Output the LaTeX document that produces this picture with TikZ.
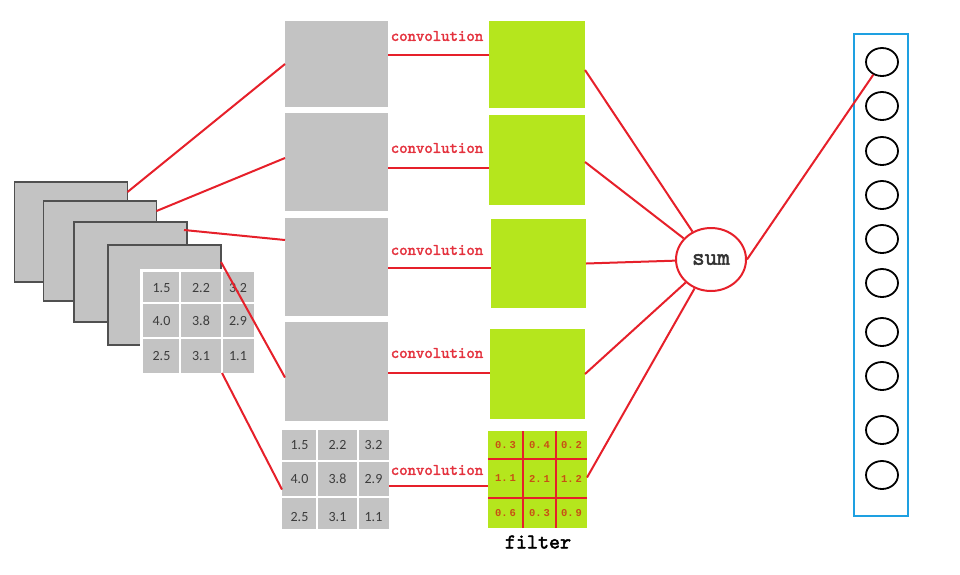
\documentclass[tikz,border=0pt]{standalone}
\usepackage{fontspec}
\usetikzlibrary{shapes.geometric,calc}
\newfontfamily\monof{Liberation Mono}
\newfontfamily\numf{Carlito}
\newfontfamily\slabf{lmmono10-regular.otf}[AutoFakeBold=2.2]
\definecolor{lred}{RGB}{230,32,42}
\definecolor{tred}{RGB}{228,50,62}
\definecolor{bgray}{RGB}{195,195,195}
\definecolor{sgray}{RGB}{80,80,80}
\definecolor{lime}{RGB}{181,230,29}
\definecolor{oblue}{RGB}{30,160,225}
\definecolor{ftxt}{RGB}{200,80,20}
\definecolor{ntxt}{RGB}{60,60,60}
\tikzset{
  graybox/.style={fill=bgray,draw=none,inner sep=0,outer sep=0,minimum width=#1},
  greenbox/.style={fill=lime,draw=none,inner sep=0,outer sep=0},
  sheet/.style={fill=bgray,draw=sgray,line width=1.1pt,inner sep=0,outer sep=0,minimum width=113pt,minimum height=100pt},
  conn/.style={draw=lred,line width=2pt},
  convlbl/.style={text=tred,font=\slabf\bfseries\fontsize{16}{16}\selectfont,inner sep=0},
  numlbl/.style={text=ntxt,font=\numf\fontsize{14}{14}\selectfont,inner sep=0},
  flbl/.style={text=ftxt,font=\monof\bfseries\fontsize{10.5}{11}\selectfont,inner sep=0},
  outc/.style={ellipse,draw=black,line width=1.8pt,minimum width=32pt,minimum height=28pt,inner sep=0},
}
\begin{document}
\begin{tikzpicture}[x=1pt,y=-1pt]
\useasboundingbox (0,0) rectangle (960,574);
% input sheets
\node[sheet] (s1) at (71,232) {};
\node[sheet] (s2) at (100,251) {};
\node[sheet] (s3) at (130.5,272) {};
\node[sheet] (s4) at (164.5,295) {};
% input grid
\fill[white] (140,269) rectangle (257,376);
\node[fill=bgray,inner sep=0,outer sep=0,minimum width=111pt,minimum height=101pt] (ig) at (198.5,322.5) {};
\draw[white,line width=1.5pt] (180,272) -- (180,373) (222,272) -- (222,373) (143,303) -- (254,303) (143,338) -- (254,338);
\node[numlbl] at (161.5,288) {1.5};
\node[numlbl] at (201,288) {2.2};
\node[numlbl] at (238,288) {3.2};
\node[numlbl] at (161.5,321) {4.0};
\node[numlbl] at (201,321) {3.8};
\node[numlbl] at (238,321) {2.9};
\node[numlbl] at (161.5,356) {2.5};
\node[numlbl] at (201,356) {3.1};
\node[numlbl] at (238,356) {1.1};
\coordinate (igb) at (222,373);
% gray column
\node[graybox=103pt,minimum height=86pt] (g1) at (336.5,64) {};
\node[graybox=103pt,minimum height=98pt] (g2) at (336.5,162) {};
\node[graybox=103pt,minimum height=98pt] (g3) at (336.5,267) {};
\node[graybox=103pt,minimum height=99pt] (g4) at (336.5,371.5) {};
\node[graybox=107pt,minimum height=99pt] (g5) at (335.5,479.5) {};
\draw[white,line width=1.5pt] (317,430) -- (317,529) (358,430) -- (358,529) (282,461) -- (389,461) (282,497) -- (389,497);
\node[numlbl] at (299.5,445.5) {1.5};
\node[numlbl] at (337.5,445.5) {2.2};
\node[numlbl] at (373.5,445.5) {3.2};
\node[numlbl] at (299.5,479) {4.0};
\node[numlbl] at (337.5,479) {3.8};
\node[numlbl] at (373.5,479) {2.9};
\node[numlbl] at (299.5,517) {2.5};
\node[numlbl] at (337.5,517) {3.1};
\node[numlbl] at (373.5,517) {1.1};
% green column
\node[greenbox,minimum width=96pt,minimum height=87pt] (f1) at (537,64.5) {};
\node[greenbox,minimum width=96pt,minimum height=90pt] (f2) at (537,160) {};
\node[greenbox,minimum width=95pt,minimum height=89pt] (f3) at (538.5,263.5) {};
\node[greenbox,minimum width=95pt,minimum height=90pt] (f4) at (537.5,374) {};
\node[greenbox,minimum width=99pt,minimum height=97pt] (f5) at (537.5,479.5) {};
\draw[lred,line width=2pt] (523,431) -- (523,528) (556,431) -- (556,528) (488,459) -- (587,459) (488,498) -- (587,498);
\node[flbl] at (505.5,445) {0.\,3};
\node[flbl] at (539.5,445) {0.\,4};
\node[flbl] at (571.5,445) {0.\,2};
\node[flbl] at (505.5,478.5) {1.\,1};
\node[flbl] at (539.5,478.5) {2.\,1};
\node[flbl] at (571.5,478.5) {1.\,2};
\node[flbl] at (505.5,513) {0.\,6};
\node[flbl] at (539.5,513) {0.\,3};
\node[flbl] at (571.5,513) {0.\,9};
\node[font=\slabf\bfseries\fontsize{21}{21}\selectfont,inner sep=0] (flt) at (538,542) {filter};
% convolution labels and lines
\node[convlbl] (c1) at (437,36) {convolution};
\node[convlbl] (c2) at (437,148) {convolution};
\node[convlbl] (c3) at (437,250) {convolution};
\node[convlbl] (c4) at (437,353) {convolution};
\node[convlbl] (c5) at (437,470) {convolution};
\coordinate (y1) at (437,55);
\coordinate (y2) at (437,168);
\coordinate (y3) at (437,268);
\coordinate (y4) at (437,373);
\coordinate (y5) at (437,486);
\draw[conn] (g1.east |- y1) -- (f1.west |- y1);
\draw[conn] (g2.east |- y2) -- (f2.west |- y2);
\draw[conn] (g3.east |- y3) -- (f3.west |- y3);
\draw[conn] (g4.east |- y4) -- (f4.west |- y4);
\draw[conn] (g5.east |- y5) -- (f5.west |- y5);
% sheets to gray boxes
\draw[conn] ($(s1.north east)+(0,10)$) -- (g1.west);
\draw[conn] ($(s2.north east)+(0,10)$) -- ($(g2.west)+(0,-4)$);
\draw[conn] ($(s3.north east)+(-3,8)$) -- ($(g3.west)+(0,-27)$);
\draw[conn] ($(s4.north east)+(0,17)$) -- ($(g4.west)+(0,6)$);
\draw[conn] (igb) -- ($(g5.west)+(0,10)$);
% sum
\node[ellipse,draw=lred,line width=2pt,minimum width=70pt,minimum height=63pt,inner sep=0,fill=white,text=black!80,font=\slabf\bfseries\fontsize{24}{24}\selectfont] (sum) at (711,259.5) {sum};
\draw[conn] ($(f1.east)+(0,5.5)$) -- (sum);
\draw[conn] ($(f2.east)+(0,2)$) -- (sum);
\draw[conn] (f3.east) -- (sum);
\draw[conn] (f4.east) -- (sum);
\draw[conn] ($(f5.east)+(0,-2)$) -- (sum);
% output
\node[draw=oblue,line width=2.2pt,minimum width=54pt,minimum height=482pt,inner sep=0] (ob) at (881,275) {};
\node[outc] (o1) at (882,62) {};
\node[outc] (o2) at (882,106) {};
\node[outc] (o3) at (882,151) {};
\node[outc] (o4) at (882,195) {};
\node[outc] (o5) at (882,239) {};
\node[outc] (o6) at (882,283) {};
\node[outc] (o7) at (882,332) {};
\node[outc] (o8) at (882,376) {};
\node[outc] (o9) at (882,430) {};
\node[outc] (o10) at (882,475) {};
\draw[conn] (sum.east) -- (o1);
\end{tikzpicture}
\end{document}
